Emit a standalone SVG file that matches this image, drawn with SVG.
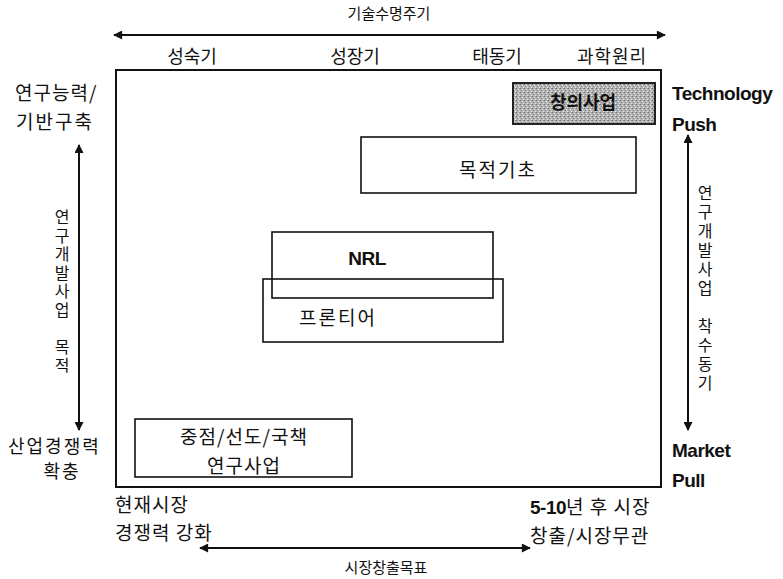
<svg xmlns="http://www.w3.org/2000/svg" width="783" height="579" viewBox="0 0 783 579">
<style>
.k{font-family:"Noto Sans CJK KR","Noto Sans",sans-serif;fill:#111}
.e{font-family:"Liberation Sans",Arial,sans-serif;fill:#111}
.box{fill:none;stroke:#111;stroke-width:1.6}
.ln{stroke:#111;stroke-width:2;fill:none}
.c{text-anchor:middle}
.v{writing-mode:vertical-rl;text-orientation:upright}
</style>
<defs>
<marker id="ah2" viewBox="0 0 10 10" refX="9" refY="5" markerWidth="11" markerHeight="9" orient="auto-start-reverse" markerUnits="userSpaceOnUse">
<path d="M0,0 L10,5 L0,10 z" fill="#111"/>
</marker>
<pattern id="stip" width="4" height="4" patternUnits="userSpaceOnUse">
<rect width="4" height="4" fill="#b5b5b5"/>
<rect x="0" y="0" width="1" height="1" fill="#6f6f6f"/>
<rect x="2" y="1" width="1" height="1" fill="#e6e6e6"/>
<rect x="1" y="2" width="1" height="1" fill="#808080"/>
<rect x="3" y="3" width="1" height="1" fill="#eeeeee"/>
<rect x="3" y="0" width="1" height="1" fill="#909090"/>
</pattern>
</defs>

<g id="connectors">
<line class="ln" x1="114" y1="35" x2="665" y2="35" marker-start="url(#ah2)" marker-end="url(#ah2)"/>
<line class="ln" x1="79" y1="145" x2="79" y2="430" marker-start="url(#ah2)" marker-end="url(#ah2)"/>
<line class="ln" x1="688" y1="135" x2="688" y2="430" marker-start="url(#ah2)" marker-end="url(#ah2)"/>
<line class="ln" x1="200" y1="548" x2="530" y2="548" marker-start="url(#ah2)" marker-end="url(#ah2)"/>
</g>

<g id="frame">
<rect x="116" y="70" width="545" height="417" fill="none" stroke="#111" stroke-width="2"/>
</g>

<g id="axis-labels">
<text class="k c" x="389" y="19" font-size="15">기술수명주기</text>
<text class="k c" x="192" y="63" font-size="18">성숙기</text>
<text class="k c" x="355" y="63" font-size="18">성장기</text>
<text class="k c" x="497" y="63" font-size="18">태동기</text>
<text class="k c" x="612" y="63" font-size="18" letter-spacing="1">과학원리</text>
<text class="k" x="15" y="100" font-size="19" letter-spacing="1">연구능력/</text>
<text class="k" x="16" y="129" font-size="19" letter-spacing="2">기반구축</text>
<text class="k" x="8" y="453" font-size="18" letter-spacing="2">산업경쟁력</text>
<text class="k c" x="62" y="478" font-size="18" letter-spacing="2">확충</text>
<text class="k v" x="62" y="209" font-size="16" letter-spacing="2.5">연구개발사업 목적</text>
<text class="k v" x="705" y="185" font-size="16" letter-spacing="3">연구개발사업 착수동기</text>
<text class="e" x="672" y="100" font-size="19" font-weight="bold" letter-spacing="-0.5">Technology</text>
<text class="e" x="672" y="131" font-size="19" font-weight="bold" letter-spacing="-0.5">Push</text>
<text class="e" x="672" y="457" font-size="19" font-weight="bold" letter-spacing="-0.5">Market</text>
<text class="e" x="672" y="487" font-size="19" font-weight="bold" letter-spacing="-0.5">Pull</text>
<text class="k" x="115" y="512" font-size="19" letter-spacing="1">현재시장</text>
<text class="k" x="115" y="540" font-size="19" letter-spacing="1">경쟁력 강화</text>
<text class="k" x="530" y="514" font-size="19" letter-spacing="1"><tspan class="e" font-weight="bold" letter-spacing="-0.5">5-10</tspan>년 후 시장</text>
<text class="k" x="530" y="543" font-size="19" letter-spacing="1">창출/시장무관</text>
<text class="k c" x="386" y="573" font-size="15">시장창출목표</text>
</g>

<g id="n-changui">
<rect x="513" y="83" width="142" height="41" fill="url(#stip)" stroke="#222" stroke-width="2"/>
<text class="k c" x="583" y="109" font-size="18" font-weight="bold">창의사업</text>
</g>

<g id="n-mokjeok">
<rect class="box" x="361" y="137" width="275" height="56"/>
<text class="k c" x="498" y="177" font-size="19" letter-spacing="2">목적기초</text>
</g>

<g id="n-frontier">
<rect class="box" x="263" y="279" width="240" height="63"/>
<text class="k c" x="338" y="325" font-size="19" letter-spacing="2">프론티어</text>
</g>

<g id="n-nrl">
<rect class="box" x="272" y="232" width="221" height="66"/>
<text class="e c" x="367" y="265" font-size="19" font-weight="bold" letter-spacing="-0.5">NRL</text>
</g>

<g id="n-jungjeom">
<rect class="box" x="135" y="419" width="217" height="58"/>
<text class="k c" x="244" y="444" font-size="19" letter-spacing="1">중점/선도/국책</text>
<text class="k c" x="244" y="473" font-size="19" letter-spacing="1">연구사업</text>
</g>
</svg>
